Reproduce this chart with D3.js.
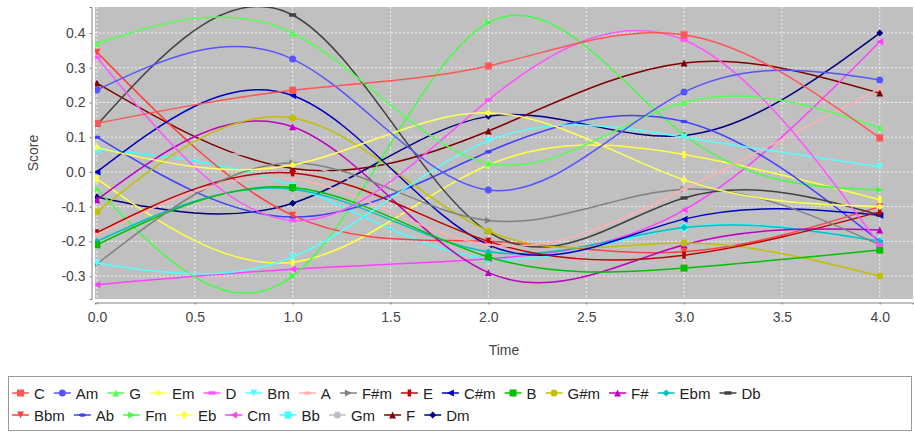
<!DOCTYPE html>
<html>
<head>
<meta charset="utf-8">
<script src="https://cdn.jsdelivr.net/npm/d3@7"></script>
<style>
  body { margin: 0; background: #fff; }
  text { font-family: "Liberation Sans", Arial, sans-serif; }
</style>
</head>
<body>
<svg></svg>
<script>
// chord keys, in series order
const keys = ["C", "Am", "G", "Em", "D", "Bm", "A", "F#m", "E", "C#m", "B", "G#m",
    "F#", "Ebm", "Db", "Bbm", "Ab", "Fm", "Eb", "Cm", "Bb", "Gm", "F", "Dm"];
const times = [0, 1, 2, 3, 4];

// score of each key at each time step
const scoreC   = [0.14, 0.235, 0.305, 0.395, 0.098];
const scoreAm  = [0.236, 0.325, -0.052, 0.23, 0.265];
const scoreG   = [0.37, 0.40, 0.025, 0.20, 0.127];
const scoreEm  = [0.07, 0.02, 0.17, -0.023, -0.10];
const scoreD   = [0.33, -0.14, 0.207, 0.38, -0.21];
const scoreBm  = [-0.262, -0.245, 0.09, 0.10, 0.015];
const scoreA   = [-0.18, -0.02, -0.21, -0.05, 0.24];
const scoreFsm = [-0.265, 0.026, -0.14, -0.05, -0.21];
const scoreE   = [-0.175, -0.003, -0.20, -0.24, -0.115];
const scoreCsm = [0.0, 0.22, -0.21, -0.136, -0.125];
const scoreB   = [-0.21, -0.045, -0.245, -0.277, -0.225];
const scoreGsm = [-0.115, 0.155, -0.17, -0.205, -0.30];
const scoreFs  = [-0.08, 0.13, -0.29, -0.21, -0.167];
const scoreEbm = [-0.20, -0.05, -0.23, -0.16, -0.20];
const scoreDb  = [0.135, 0.452, -0.173, -0.075, -0.124];
const scoreBbm = [0.345, -0.125, -0.20, -0.23, -0.10];
const scoreAb  = [0.10, -0.13, 0.058, 0.145, -0.20];
const scoreFm  = [-0.05, -0.30, 0.43, 0.107, -0.052];
const scoreEb  = [-0.02, -0.26, 0.02, 0.05, -0.08];
const scoreCm  = [-0.325, -0.28, -0.25, -0.11, 0.375];
const scoreBb  = [0.065, -0.04, -0.25, -0.16, -0.20];
const scoreGm  = [0.02, 0.03, -0.15, -0.10, -0.20];
const scoreF   = [0.256, 0.01, 0.118, 0.314, 0.227];
const scoreDm  = [-0.072, -0.09, 0.16, 0.105, 0.40];

const scores = [scoreC, scoreAm, scoreG, scoreEm, scoreD, scoreBm, scoreA, scoreFsm,
    scoreE, scoreCsm, scoreB, scoreGsm, scoreFs, scoreEbm, scoreDb, scoreBbm, scoreAb,
    scoreFm, scoreEb, scoreCm, scoreBb, scoreGm, scoreF, scoreDm];

const xTicks = [0, 0.5, 1, 1.5, 2, 2.5, 3, 3.5, 4];
const yTicks = [-0.3, -0.2, -0.1, 0, 0.1, 0.2, 0.3, 0.4];

const palette = ["#ff5555", "#5555ff", "#55ff55", "#ffff55", "#ff55ff", "#55ffff",
    "#ffafaf", "#808080", "#c00000", "#0000c0", "#00c000", "#c0c000", "#c000c0",
    "#00c0c0", "#404040", "#ff4040", "#4040ff", "#40ff40", "#ffff40", "#ff40ff",
    "#40ffff", "#c0c0c0", "#800000", "#000080"];

const width = 914;
const height = 437;
const plotLeft = 95, plotRight = 913, plotTop = 7, plotBottom = 299;

let svg = d3.select("svg")
    .attr("width", width)
    .attr("height", height);

let x = d3.scaleLinear().domain([-0.01, 4.17]).range([plotLeft, plotRight]);
let y = d3.scaleLinear().domain([-0.366, 0.475]).range([plotBottom, plotTop]);

// plot background
svg.append("rect")
    .attr("x", plotLeft).attr("y", plotTop)
    .attr("width", plotRight - plotLeft).attr("height", plotBottom - plotTop)
    .attr("fill", "#c0c0c0");

// grid lines
svg.append("g").selectAll("line")
    .data(xTicks).enter().append("line")
    .attr("x1", d => x(d)).attr("x2", d => x(d))
    .attr("y1", plotTop).attr("y2", plotBottom)
    .attr("stroke", "#fff").attr("stroke-width", 0.8).attr("stroke-dasharray", "2,2");
svg.append("g").selectAll("line")
    .data(yTicks).enter().append("line")
    .attr("x1", plotLeft).attr("x2", plotRight)
    .attr("y1", d => y(d)).attr("y2", d => y(d))
    .attr("stroke", "#fff").attr("stroke-width", 0.8).attr("stroke-dasharray", "2,2");

// axes, offset a few pixels from the plot like JFreeChart does
let axisY = d3.axisLeft(y).tickValues(yTicks).tickSize(2).tickPadding(4)
    .tickFormat(d => d.toFixed(1));
let axisX = d3.axisBottom(x).tickValues(xTicks).tickSize(2).tickPadding(8)
    .tickFormat(d => d.toFixed(1));

let gy = svg.append("g").attr("transform", `translate(${plotLeft - 3.5}, 0)`).call(axisY);
let gx = svg.append("g").attr("transform", `translate(0, ${plotBottom + 3.5})`).call(axisX);
[gy, gx].forEach(g => {
    g.select(".domain").attr("stroke", "#808080");
    g.selectAll(".tick line").attr("stroke", "#808080");
    g.selectAll(".tick text").attr("fill", "#444").style("font-size", "14px")
        .style("font-family", "'Liberation Sans', Arial, sans-serif");
});

svg.append("text")
    .attr("transform", `translate(38, ${(plotTop + plotBottom) / 2}) rotate(-90)`)
    .attr("text-anchor", "middle").attr("fill", "#444").style("font-size", "14px")
    .text("Score");
svg.append("text")
    .attr("x", (plotLeft + plotRight) / 2).attr("y", 355)
    .attr("text-anchor", "middle").attr("fill", "#444").style("font-size", "14px")
    .text("Time");

// JFreeChart default shape sequence
function shapePath(i) {
    const s = 3.5;
    switch (i % 10) {
        case 0: return `M${-s},${-s}h${2 * s}v${2 * s}h${-2 * s}Z`;
        case 1: return d3.symbol(d3.symbolCircle, Math.PI * s * s)();
        case 2: return `M0,${-s}L${s},${s}L${-s},${s}Z`;
        case 3: return `M0,${-s}L${s},0L0,${s}L${-s},0Z`;
        case 4: return `M${-s},${-s / 2}h${2 * s}v${s}h${-2 * s}Z`;
        case 5: return `M${-s},${-s}L${s},${-s}L0,${s}Z`;
        case 6: return `M${-s},0A${s},${s / 2} 0 1 0 ${s},0A${s},${s / 2} 0 1 0 ${-s},0Z`;
        case 7: return `M${-s},${-s}L${s},0L${-s},${s}Z`;
        case 8: return `M${-s / 2},${-s}h${s}v${2 * s}h${-s}Z`;
        default: return `M${-s},0L${s},${-s}L${s},${s}Z`;
    }
}

let series = keys.map((k, i) => ({
    key: k,
    color: palette[i],
    index: i,
    points: times.map((t, j) => ({x: t, y: scores[i][j]}))
}));

let line = d3.line().x(d => x(d.x)).y(d => y(d.y)).curve(d3.curveNatural);

svg.append("clipPath").attr("id", "plotClip")
    .append("rect")
    .attr("x", plotLeft).attr("y", plotTop)
    .attr("width", plotRight - plotLeft).attr("height", plotBottom - plotTop);

// series 0 ends up on top
let seriesG = svg.append("g").attr("clip-path", "url(#plotClip)")
    .selectAll("g")
    .data(series.slice().reverse())
    .enter()
    .append("g");

seriesG.append("path")
    .attr("d", d => line(d.points))
    .attr("fill", "none")
    .attr("stroke", d => d.color)
    .attr("stroke-width", 1.5);

seriesG.each(function (s) {
    d3.select(this).selectAll("path.marker")
        .data(s.points)
        .enter()
        .append("path")
        .attr("class", "marker")
        .attr("d", shapePath(s.index))
        .attr("transform", d => `translate(${x(d.x)}, ${y(d.y)})`)
        .attr("fill", s.color);
});

// legend
const legendRowBreak = 15;
let legend = svg.append("g");
legend.append("rect")
    .attr("x", 8.5).attr("y", 376.5).attr("width", 903).attr("height", 54)
    .attr("fill", "#fff").attr("stroke", "#999");

let cursorX = 12;
series.forEach((s, i) => {
    if (i === legendRowBreak) cursorX = 12;
    const rowY = i < legendRowBreak ? 393 : 415;
    let item = legend.append("g").attr("transform", `translate(${cursorX}, ${rowY})`);
    item.append("line")
        .attr("x1", 0).attr("x2", 17).attr("y1", 0).attr("y2", 0)
        .attr("stroke", s.color).attr("stroke-width", 1.5);
    item.append("path")
        .attr("d", shapePath(s.index))
        .attr("transform", "translate(8.5, 0)")
        .attr("fill", s.color);
    let label = item.append("text")
        .attr("x", 22).attr("y", 5.5)
        .attr("fill", "#222").style("font-size", "15px")
        .text(s.key);
    cursorX += 22 + label.node().getComputedTextLength() + 9;
});
</script>
</body>
</html>
